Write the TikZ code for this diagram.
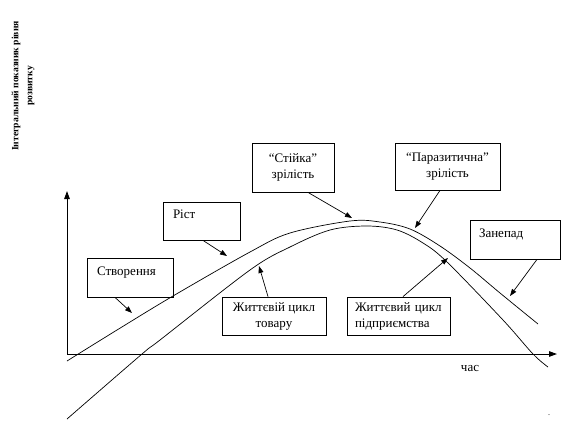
\documentclass[tikz,border=0pt]{standalone}
\usepackage{fontspec}
\setmainfont{Liberation Serif}
\usetikzlibrary{arrows.meta}
\begin{document}
\begin{tikzpicture}[x=1pt,y=-1pt,
  every node/.style={font=\fontsize{13}{16}\selectfont},
  box/.style={draw, line width=0.8pt, inner sep=0pt},
  cbox/.style={box, align=center},
  lbox/.style={box, align=left},
  upbox/.style={box, align=left, text height=9pt, text depth=14pt},
  arr/.style={line width=0.7pt, -{Triangle[length=7pt,width=5pt]}},
  axis/.style={line width=1pt, -{Triangle[length=8pt,width=5.5pt]}},
  curve/.style={line width=0.7pt}
]
\useasboundingbox (0,0) rectangle (568,421);

% axes
\coordinate (O) at (67,354);
\coordinate (ytop) at (67,191);
\coordinate (xend) at (557,354);
\draw[axis] (O) -- (ytop);
\draw[axis] (O) -- (xend);

% axis labels
\node[rotate=90, align=center, font=\fontsize{9.6}{14}\selectfont\bfseries] (ylab) at (23,86)
  {Інтегральний показник рівня\\розвитку};
\node (xlab) at (470,368) {час};
\node[font=\fontsize{8}{8}\selectfont] (dot) at (549,415) {.};

% curves
\draw[curve] plot[smooth, tension=0.55] coordinates {
  (67,361) (117,330) (173,296) (250,252) (290,233) (350,221) (380,222)
  (410,229) (440,246) (470,268) (500,293) (538,324)};
\draw[curve] plot[smooth, tension=0.55] coordinates {
  (67,419) (142,354) (160,340) (250,270) (290,247) (330,230) (367,226)
  (397,230) (423,243) (447,262) (503,320) (533,354) (548,367)};

% boxes
\node[upbox, minimum width=86pt, minimum height=39pt, text width=66pt] (stvor) at (130,277.5) {Створення};
\node[upbox, minimum width=77pt, minimum height=38pt, text width=57pt] (rist) at (201.5,221) {Ріст};
\node[upbox, minimum width=90pt, minimum height=39pt, text width=72pt] (zanepad) at (515,239.5) {Занепад};
\node[cbox, minimum width=82pt, minimum height=49pt] (stiyka) at (293,167.5) {“Стійка”\\зрілість};
\node[cbox, minimum width=105pt, minimum height=47pt] (paraz) at (447.5,166.5) {“Паразитична”\\зрілість};
\node[cbox, minimum width=104pt, minimum height=38pt] (tovar) at (274,316) {Життєвій цикл\\товару};
\node[lbox, minimum width=103pt, minimum height=38pt, text width=87pt] (pidpr) at (398.5,316) {Життєвий цикл\\підприємства};

% arrow tips
\coordinate (tstvor) at (132,313);
\coordinate (trist) at (227,256);
\coordinate (tstiyka) at (352,218);
\coordinate (tparaz) at (415,228);
\coordinate (tzanepad) at (510,296);
\coordinate (ttovar) at (259,266);
\coordinate (tpidpr) at (448,258);

% connectors
\draw[arr] ([xshift=-15pt]stvor.south) -- (tstvor);
\draw[arr] ([xshift=1.5pt]rist.south) -- (trist);
\draw[arr] ([xshift=15pt]stiyka.south) -- (tstiyka);
\draw[arr] ([xshift=-7.5pt]paraz.south) -- (tparaz);
\draw[arr] ([xshift=22pt]zanepad.south) -- (tzanepad);
\draw[arr] ([xshift=-6pt]tovar.north) -- (ttovar);
\draw[arr] ([xshift=4.5pt]pidpr.north) -- (tpidpr);
\end{tikzpicture}
\end{document}
